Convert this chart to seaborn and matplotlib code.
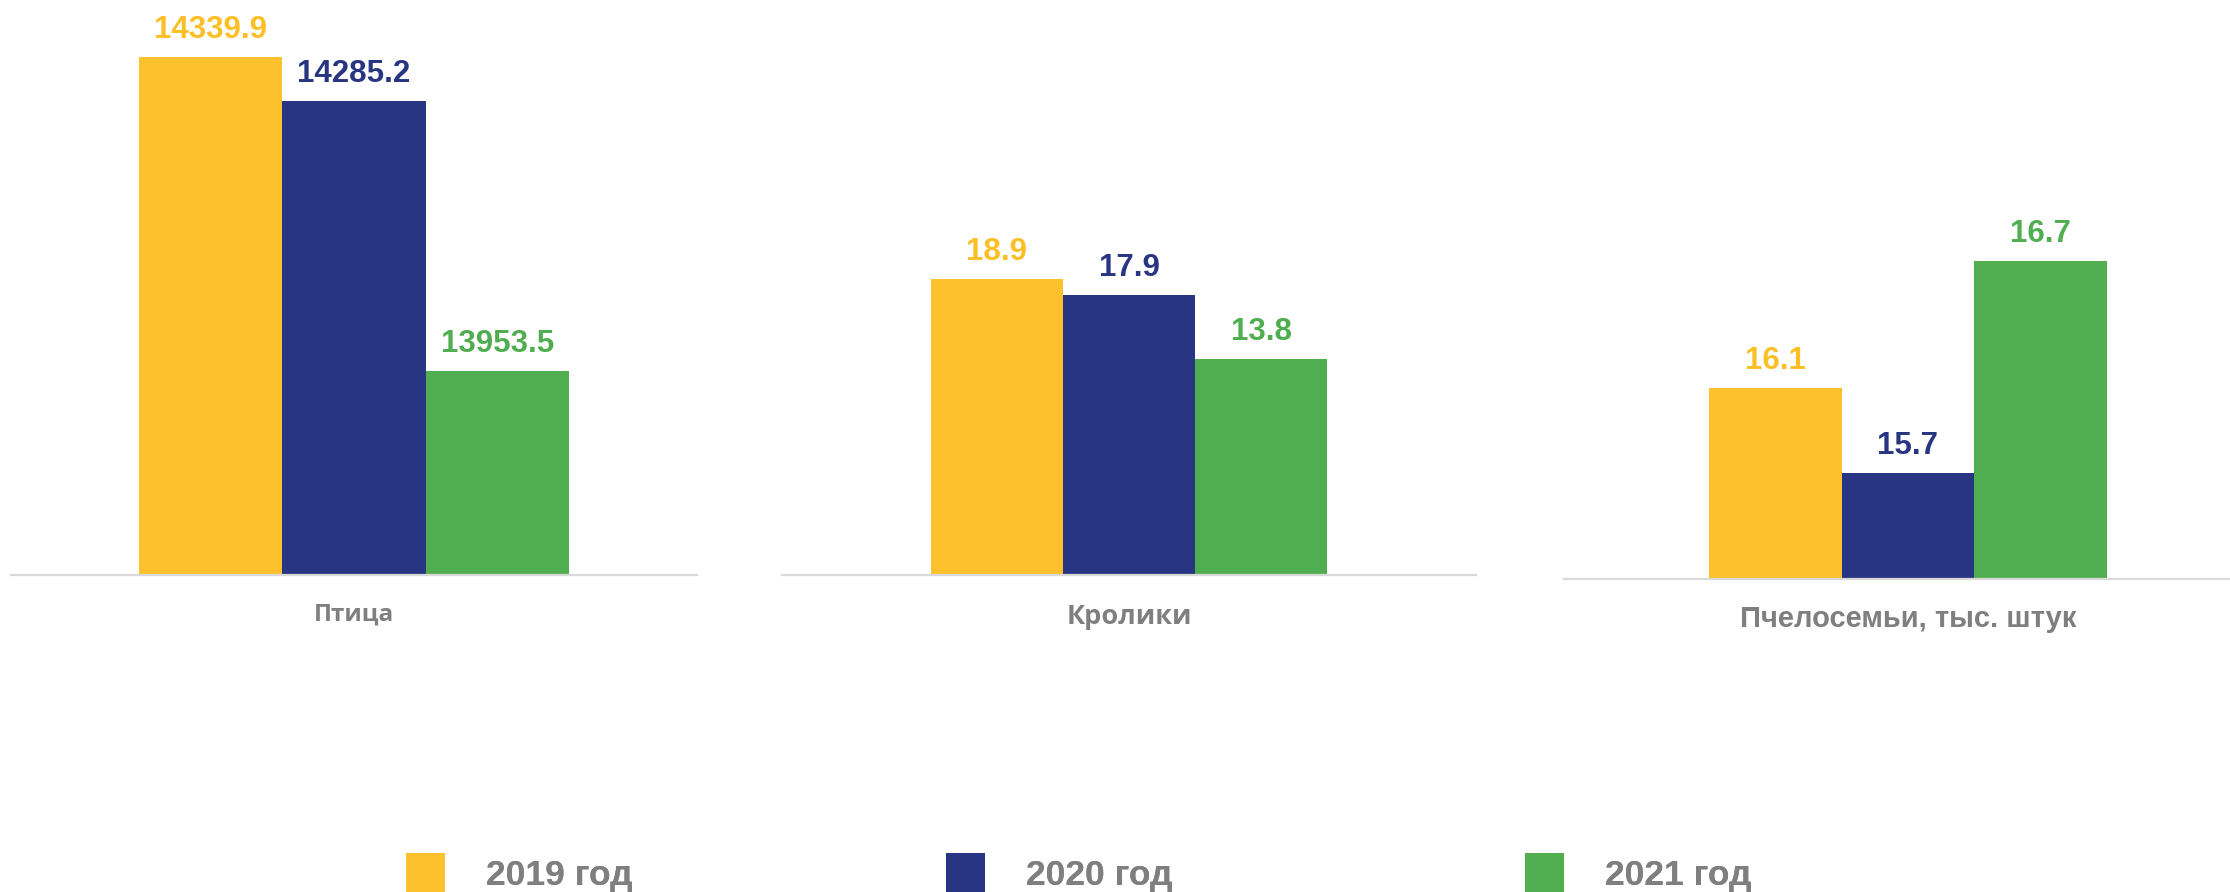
import numpy as np
import pandas as pd
import matplotlib
matplotlib.use("Agg")
import matplotlib.pyplot as plt
import seaborn as sns

# data
CATEGORIES = ["Птица", "Кролики", "Пчелосемьи, тыс. штук"]
YEARS = ["2019 год", "2020 год", "2021 год"]
VALUES_2019 = [14339.9, 18.9, 16.1]
VALUES_2020 = [14285.2, 17.9, 15.7]
VALUES_2021 = [13953.5, 13.8, 16.7]

COLORS = ["#FDC12D", "#283582", "#50AE50"]
LABEL_COLORS = ["#FDBF26", "#283582", "#50AE50"]
GRAY = "#7F7F7F"

rows = []
for cat, a, b, c in zip(CATEGORIES, VALUES_2019, VALUES_2020, VALUES_2021):
    for year, v in zip(YEARS, [a, b, c]):
        rows.append({"category": cat, "year": year, "value": v})
df = pd.DataFrame(rows)

sns.set_theme(style="white")
plt.rcParams["font.family"] = ["Liberation Sans", "DejaVu Sans"]

W, H = 2230, 892
fig = plt.figure(figsize=(W / 100, H / 100), dpi=100)

# panel layout in pixels: left, width, baseline (from top), bar group width, ylim
panels = [
    dict(left=11, width=686, base=575, group=0.628, ylim=(13702, 14410),
         font="Open Sans", size=17.5, label_off=33.0),
    dict(left=782, width=694, base=575, group=0.571, ylim=(0, 36.7),
         font="Open Sans", size=19.5, label_off=35.5),
    dict(left=1564, width=688, base=579, group=0.578, ylim=(15.2, 17.93),
         font="Liberation Sans", size=21, label_off=34.5),
]

handles = None
for cat, p in zip(CATEGORIES, panels):
    ax = fig.add_axes([p["left"] / W, (H - p["base"]) / H,
                       p["width"] / W, p["base"] / H])
    sub = df[df["category"] == cat]
    sns.barplot(data=sub, x="category", y="value", hue="year",
                palette=COLORS, width=p["group"], saturation=1,
                linewidth=0, ax=ax, legend=True)
    if handles is None:
        handles, labels = ax.get_legend_handles_labels()
    ax.get_legend().remove()

    ax.set_xlim(-0.5, 0.5)
    ax.set_ylim(*p["ylim"])
    ax.set_xlabel("")
    ax.set_ylabel("")
    ax.set_xticks([])
    ax.set_yticks([])
    for s in ["top", "left", "right"]:
        ax.spines[s].set_visible(False)
    ax.spines["bottom"].set_color("#D9D9D9")
    ax.spines["bottom"].set_linewidth(1.6)

    for container, col in zip(ax.containers, LABEL_COLORS):
        for bar in container:
            h = bar.get_height()
            ax.annotate(f"{h:.1f}", xy=(bar.get_x() + bar.get_width() / 2, h),
                        xytext=(0, 13.7), textcoords="offset points",
                        ha="center", va="baseline", fontsize=22.5,
                        fontweight="bold", color=col, annotation_clip=False)

    ax.annotate(cat, xy=(0.5, 0), xycoords="axes fraction",
                xytext=(0, -p["label_off"]), textcoords="offset points",
                ha="center", va="baseline", fontsize=p["size"],
                fontweight="bold", color=GRAY,
                family=[p["font"], "DejaVu Sans"])

# legend entries placed one by one, as in the reference
for handle, year, x0 in zip(handles, YEARS, [406, 946, 1525]):
    leg = fig.legend([handle], [year], loc="lower left",
                     bbox_to_anchor=(x0 / W, 0), frameon=False,
                     fontsize=25.5, handlelength=1.1, handleheight=1.3,
                     handletextpad=1.15, borderpad=0, borderaxespad=0)
    for t in leg.get_texts():
        t.set_color(GRAY)
        t.set_fontweight("bold")
    fig.add_artist(leg)

fig.savefig("out.png", dpi=100)
